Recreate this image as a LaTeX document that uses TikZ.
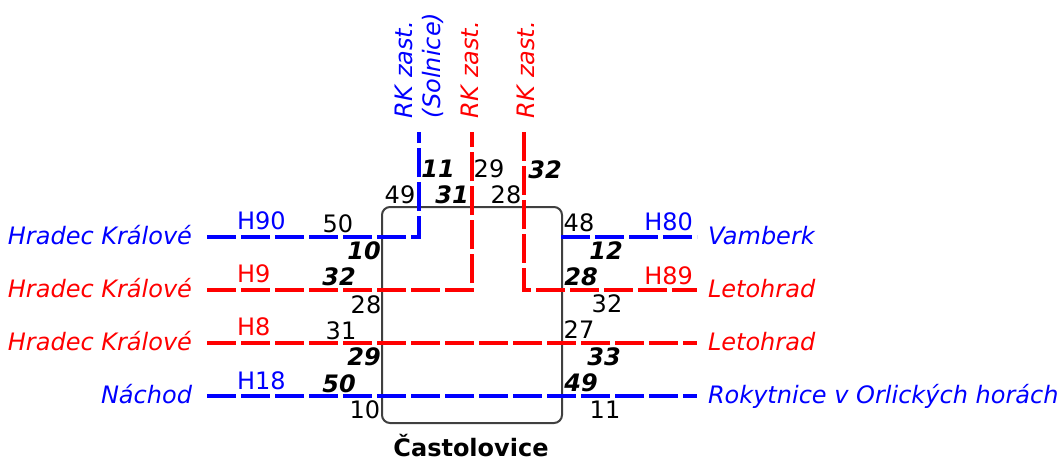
\documentclass[tikz,border=0pt]{standalone}
\usepackage{fontspec}
\setmainfont{DejaVu Sans}
\newcommand{\labelsize}{\fontsize{24}{28}\selectfont}
\begin{document}
\begin{tikzpicture}[x=1pt,y=-1pt,
  every node/.style={inner sep=0pt,outer sep=0pt,font=\labelsize},
  route/.style={line width=4.5pt,dash pattern=on 29pt off 5pt},
  rb/.style={route,blue},
  rr/.style={route,red},
  place/.style={font=\labelsize\itshape},
  km/.style={text=black},
  kmb/.style={text=black,font=\labelsize\bfseries\itshape},
  stationbox/.style={draw=black!75,line width=2pt,rounded corners=8pt}]
\useasboundingbox (0,0) rectangle (1059,460);

% station
\draw[stationbox] (382,207) rectangle (562,423);
\node[anchor=base,font=\labelsize\bfseries] (st) at (471,456) {Častolovice};

% line end points
\coordinate (h90w) at (207,237);  \coordinate (h90c) at (419,237); \coordinate (h90n) at (419,132);
\coordinate (h9w)  at (207,290);  \coordinate (h9c)  at (472,290); \coordinate (h9n)  at (472,132);
\coordinate (h89n) at (524,132);  \coordinate (h89c) at (524,290); \coordinate (h89e) at (697,290);
\coordinate (h8w)  at (207,343);  \coordinate (h8e)  at (697,343);
\coordinate (h18w) at (207,396);  \coordinate (h18e) at (697,396);
\coordinate (h80w) at (561,237);  \coordinate (h80e) at (697,237);

% routes
\draw[rb] (h90w) -- (h90c) -- (h90n);
\draw[rr] (h9w) -- (h9c) -- (h9n);
\draw[rr] (h89n) -- (h89c) -- (h89e);
\draw[rr] (h8w) -- (h8e);
\draw[rb] (h18w) -- (h18e);
\draw[rb] (h80w) -- (h80e);

% destinations, left
\node[place,blue,anchor=base east] (dHK1) at (192,244.5) {Hradec Králové};
\node[place,red,anchor=base east]  (dHK2) at (192,297.5) {Hradec Králové};
\node[place,red,anchor=base east]  (dHK3) at (192,350.5) {Hradec Králové};
\node[place,blue,anchor=base east] (dNa)  at (192,403.5) {Náchod};
% destinations, right
\node[place,blue,anchor=base west] (dVa)  at (708,244.5) {Vamberk};
\node[place,red,anchor=base west]  (dLe1) at (708,297.5) {Letohrad};
\node[place,red,anchor=base west]  (dLe2) at (708,350.5) {Letohrad};
\node[place,blue,anchor=base west] (dRo)  at (708,403.5) {Rokytnice v Orlických horách};
% destinations, top
\node[place,blue,rotate=90,anchor=west,align=left] (dSo) at (419,118) {RK zast.\\(Solnice)};
\node[place,red,rotate=90,anchor=west] (dRK1) at (470,118) {RK zast.};
\node[place,red,rotate=90,anchor=west] (dRK2) at (526,118) {RK zast.};

% line numbers
\node[blue,anchor=west] (lH90) at (237,221) {H90};
\node[red,anchor=west]  (lH9)  at (237,274) {H9};
\node[red,anchor=west]  (lH8)  at (237,327) {H8};
\node[blue,anchor=west] (lH18) at (237,381) {H18};
\node[blue,anchor=east] (lH80) at (693,222) {H80};
\node[red,anchor=east]  (lH89) at (693,276) {H89};

% timetable numbers, left
\node[km]  (a1) at (338,224) {50};
\node[kmb] (a2) at (364,251) {10};
\node[kmb] (a3) at (339,277) {32};
\node[km]  (a4) at (366,305) {28};
\node[km]  (a5) at (341,331) {31};
\node[kmb] (a6) at (364,357) {29};
\node[kmb] (a7) at (339,384) {50};
\node[km]  (a8) at (365,410) {10};
% timetable numbers, right
\node[km]  (b1) at (579,223) {48};
\node[kmb] (b2) at (606,251) {12};
\node[kmb] (b3) at (581,277) {28};
\node[km]  (b4) at (607,304) {32};
\node[km]  (b5) at (579,330) {27};
\node[kmb] (b6) at (604,357) {33};
\node[kmb] (b7) at (581,383) {49};
\node[km]  (b8) at (605,410) {11};
% timetable numbers, top
\node[kmb] (c1) at (438,169) {11};
\node[km]  (c2) at (489,169) {29};
\node[kmb] (c3) at (545,170) {32};
\node[km]  (c4) at (400,195) {49};
\node[kmb] (c5) at (452,195) {31};
\node[km]  (c6) at (506,195) {28};
\end{tikzpicture}
\end{document}
